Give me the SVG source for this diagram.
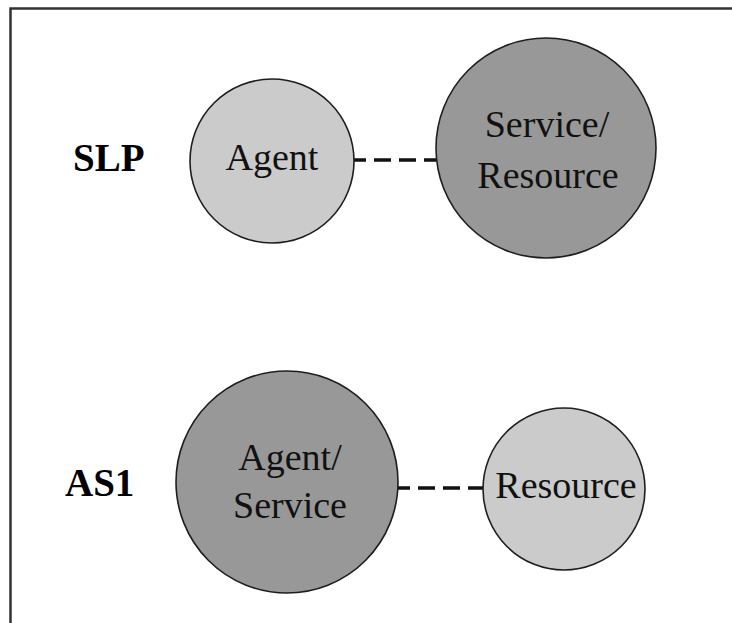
<svg xmlns="http://www.w3.org/2000/svg" width="732" height="623" viewBox="0 0 732 623">
  <style>
    .light { fill: #cbcbcb; stroke: #1e1e1e; stroke-width: 1.6; }
    .dark { fill: #989898; stroke: #1e1e1e; stroke-width: 1.6; }
    .lbl { font-family: "Liberation Serif", "Times New Roman", serif; font-size: 38px; fill: #111; text-anchor: middle; }
    .row { font-family: "Liberation Serif", "Times New Roman", serif; font-size: 39px; font-weight: bold; fill: #000; }
    .link { stroke: #111; stroke-width: 3.5; stroke-dasharray: 17 8; fill: none; }
  </style>
  <rect width="732" height="623" fill="#ffffff"/>
  <!-- frame: top and left edges only -->
  <path d="M10.5,623 V8.5 H732" fill="none" stroke="#333" stroke-width="2.5"/>

  <!-- row labels -->
  <text class="row" x="73" y="171">SLP</text>
  <text class="row" x="65" y="496">AS1</text>

  <!-- connectors -->
  <g id="connectors">
    <line class="link" x1="354" y1="160" x2="437" y2="160" stroke-dashoffset="5"/>
    <line class="link" x1="398" y1="488" x2="484" y2="488" stroke-dashoffset="5"/>
  </g>

  <!-- SLP row -->
  <g id="slp-agent">
    <circle class="light" cx="272" cy="161" r="82"/>
    <text class="lbl" x="272" y="170">Agent</text>
  </g>
  <g id="slp-service-resource">
    <circle class="dark" cx="546" cy="148" r="110"/>
    <text class="lbl" x="547" y="137">Service/</text>
    <text class="lbl" x="548" y="188">Resource</text>
  </g>

  <!-- AS1 row -->
  <g id="as1-agent-service">
    <circle class="dark" cx="287" cy="482" r="111"/>
    <text class="lbl" x="290" y="470">Agent/</text>
    <text class="lbl" x="290" y="518">Service</text>
  </g>
  <g id="as1-resource">
    <circle class="light" cx="564" cy="489" r="81"/>
    <text class="lbl" x="566" y="498">Resource</text>
  </g>
</svg>
